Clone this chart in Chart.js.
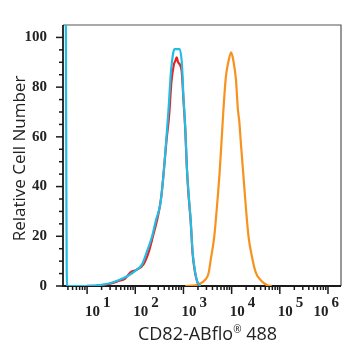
<!DOCTYPE html>
<html lang="en">
<head>
<meta charset="UTF-8" />
<title>CD82-ABflo 488 histogram</title>
<script src="https://cdn.jsdelivr.net/npm/chart.js"></script>
<style>
  html, body { margin: 0; padding: 0; background: #fff; }
  #wrap { width: 353px; height: 350px; }
</style>
</head>
<body>
<div id="wrap"><canvas id="chart"></canvas></div>
<script>
// x values are log10 of the fluorescence intensity, y is relative cell number
const cyanX = [0.557, 0.582, 0.97, 1.17, 1.45, 1.65, 1.86, 2.00, 2.14, 2.24, 2.35, 2.43, 2.52, 2.59, 2.64, 2.69, 2.74, 2.79, 2.82, 2.92, 2.97, 3.00, 3.04, 3.07, 3.10, 3.15, 3.19, 3.24, 3.29, 3.35];
const cyanY = [115, 0, 0, 0.2, 1, 2.3, 4.2, 6.1, 8.7, 13.7, 20, 26.5, 33, 45.5, 58, 71, 86, 94, 95.3, 95.3, 88.8, 76, 63, 48, 39, 26.5, 13.7, 6, 1.6, 0];

const redX = [0.95, 1.17, 1.45, 1.65, 1.79, 1.90, 2.02, 2.17, 2.28, 2.38, 2.47, 2.54, 2.60, 2.65, 2.70, 2.75, 2.80, 2.83, 2.86, 2.89, 2.96, 3.00, 3.04, 3.07, 3.10, 3.15, 3.19, 3.24, 3.29, 3.35];
const redY = [0, 0.1, 0.8, 2.0, 3.0, 5.5, 6.5, 8.7, 13.7, 21, 28, 36, 48, 59, 68, 82, 89, 90.5, 92, 90, 87, 75, 62, 48, 38, 26, 13, 5.5, 1.5, 0];

const orangeX = [3.04, 3.24, 3.35, 3.45, 3.52, 3.57, 3.64, 3.70, 3.75, 3.79, 3.83, 3.88, 3.93, 3.99, 4.03, 4.09, 4.13, 4.16, 4.19, 4.24, 4.29, 4.35, 4.42, 4.50, 4.62, 4.73, 4.83];
const orangeY = [0, 0.3, 1, 2.5, 5, 11, 20, 33, 45.5, 58, 71, 84, 90, 94, 91.3, 83, 71, 66, 58, 45.5, 33, 20, 12, 5.5, 2, 0.4, 0];

const decades = [1, 2, 3, 4, 5, 6];      // x tick labels 10^n
const yTicks = [0, 20, 40, 60, 80, 100];
const xTitle = ["CD82-ABflo", "\u00AE", " 488"];
const yTitle = "Relative Cell Number";

function pts(xs, ys) {
  return xs.map((x, i) => ({ x: x, y: ys[i] }));
}

const textColor = "#222";
const tickFont = 'bold 15px "Liberation Serif"';

// tick marks, frame, exponent labels and axis titles
const axisDecor = {
  id: "axisDecor",
  beforeDatasetsDraw(chart) {
    const { ctx, chartArea: a, scales } = chart;
    const x = scales.x, y = scales.y;
    ctx.save();
    ctx.strokeStyle = "#555";
    ctx.lineWidth = 1.2;
    ctx.beginPath();
    ctx.moveTo(a.left, a.top);
    ctx.lineTo(a.right, a.top);
    ctx.lineTo(a.right, a.bottom);
    ctx.stroke();

    ctx.strokeStyle = "#1a1a1a";
    ctx.lineWidth = 1.8;
    ctx.beginPath();
    ctx.moveTo(a.left, a.top);
    ctx.lineTo(a.left, a.bottom);
    ctx.lineTo(a.right, a.bottom);
    ctx.stroke();

    ctx.lineWidth = 1.5;
    for (let v = 0; v <= 100; v += 5) {
      const py = y.getPixelForValue(v);
      const len = yTicks.includes(v) ? 7 : 4;
      ctx.beginPath();
      ctx.moveTo(a.left - len, py);
      ctx.lineTo(a.left, py);
      ctx.stroke();
    }
    for (let d = 0; d <= 6; d++) {
      for (let k = 1; k <= 9; k++) {
        const v = d + Math.log10(k);
        if (v < x.min || v > x.max) continue;
        const px = x.getPixelForValue(v);
        const len = k === 1 ? 8 : 4;
        ctx.beginPath();
        ctx.moveTo(px, a.bottom);
        ctx.lineTo(px, a.bottom + len);
        ctx.stroke();
      }
    }
    ctx.restore();
  },
  afterDraw(chart) {
    const { ctx, scales } = chart;
    const x = scales.x;
    ctx.save();
    ctx.fillStyle = textColor;
    ctx.textBaseline = "alphabetic";
    ctx.textAlign = "left";
    ctx.font = tickFont;
    decades.forEach((d) => {
      const base = "10", sup = String(d);
      const wb = ctx.measureText(base).width;
      const ws = ctx.measureText(sup).width;
      let left = x.getPixelForValue(d) - 2;
      const total = wb + 3 + ws;
      if (left + total > 339) left = 339 - total;
      ctx.fillText(base, left, 315.5);
      ctx.fillText(sup, left + wb + 3, 307);
    });

    // x title with a small raised registered sign
    const big = '18px "Open Sans"', small = '10px "Open Sans"';
    ctx.font = big;
    const w0 = ctx.measureText(xTitle[0]).width;
    const w2 = ctx.measureText(xTitle[2]).width;
    ctx.font = small;
    const w1 = ctx.measureText(xTitle[1]).width;
    let tx = 207.5 - (w0 + w1 + w2) / 2;
    ctx.font = big;
    ctx.fillText(xTitle[0], tx, 340);
    ctx.font = small;
    ctx.fillText(xTitle[1], tx + w0, 333);
    ctx.font = big;
    ctx.fillText(xTitle[2], tx + w0 + w1, 340);

    ctx.translate(25, 158.5);
    ctx.rotate(-Math.PI / 2);
    ctx.textAlign = "center";
    ctx.font = '17px "Open Sans"';
    ctx.fillText(yTitle, 0, 0);
    ctx.restore();
  }
};

new Chart(document.getElementById("chart"), {
  type: "scatter",
  data: {
    datasets: [
      {
        data: pts(cyanX, cyanY),
        borderColor: "#21bde6",
        order: 0
      },
      {
        data: pts(redX, redY),
        borderColor: "#e8221e",
        order: 1
      },
      {
        data: pts(orangeX, orangeY),
        borderColor: "#f7921e",
        order: 2
      }
    ]
  },
  options: {
    responsive: true,
    maintainAspectRatio: false,
    animation: false,
    showLine: true,
    elements: {
      point: { radius: 0, hoverRadius: 0 },
      line: { borderWidth: 2.2, cubicInterpolationMode: "monotone", fill: false }
    },
    layout: { padding: { top: 10, right: 12, left: 0, bottom: 0 } },
    plugins: {
      legend: { display: false },
      tooltip: { enabled: false }
    },
    scales: {
      x: {
        type: "linear",
        min: 0.5,
        max: 6.27,
        grid: { display: false, drawTicks: false },
        border: { display: false },
        ticks: { display: false },
        afterFit(s) { s.height = 64; }
      },
      y: {
        type: "linear",
        min: 0,
        max: 105,
        grid: { display: false, drawTicks: false },
        border: { display: false },
        ticks: {
          stepSize: 20,
          includeBounds: false,
          padding: 16,
          color: textColor,
          font: { family: "Liberation Serif", size: 15, weight: "bold" }
        },
        afterFit(s) { s.width = 63; }
      }
    }
  },
  plugins: [axisDecor]
});
</script>
</body>
</html>
